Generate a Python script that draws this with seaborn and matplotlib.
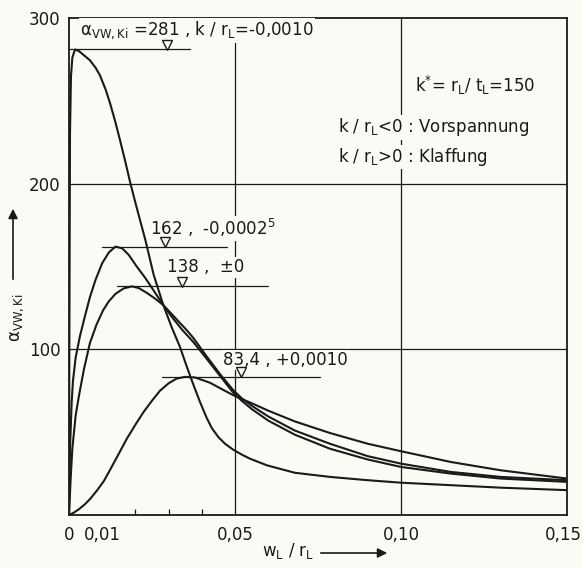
"""Kippbeiwert alpha_VW,Ki des Liners ueber w_L/r_L (k* = 150)."""

import matplotlib

matplotlib.use("Agg")

import matplotlib.pyplot as plt
import matplotlib.transforms as mtransforms
import pandas as pd
import seaborn as sns

PAPER = "#fbfaf4"
INK = "#1a1a1a"

# k/r_L = -0,0010 (Vorspannung, Spitze 281)
w_a = [0, 0.0001, 0.0003, 0.0006, 0.001, 0.0018, 0.003, 0.0045, 0.0063, 0.008, 0.0093,
       0.011, 0.0123, 0.014, 0.0154, 0.017, 0.0184, 0.020, 0.0214, 0.023, 0.0255, 0.0284,
       0.031, 0.0334, 0.0354, 0.0374, 0.0395, 0.0415, 0.043, 0.045, 0.047, 0.0494, 0.052,
       0.0545, 0.0596, 0.068, 0.0786, 0.090, 0.100, 0.115, 0.130, 0.150]
a_a = [0, 100, 230, 265, 276, 281, 280, 277.5, 274.5, 270, 265.5,
       257, 249, 237, 226, 213, 201, 188.5, 178, 166, 145, 126.7,
       113, 101.6, 90, 79, 68, 58.5, 52.5, 47, 43, 39.5, 36.5,
       34, 30, 25.5, 23, 21, 19.5, 18, 16.5, 15]

# k/r_L = -0,00025 (Spitze 162)
w_b = [0, 0.0003, 0.0008, 0.0012, 0.002, 0.0033, 0.0048, 0.0063, 0.008, 0.010, 0.012,
       0.014, 0.016, 0.018, 0.0204, 0.023, 0.0254, 0.0284, 0.031, 0.034, 0.0374, 0.041,
       0.0445, 0.0494, 0.052, 0.055, 0.060, 0.068, 0.0786, 0.090, 0.100, 0.115, 0.130, 0.150]
a_b = [0, 40, 68, 81, 95, 108, 120, 131.5, 142, 152, 158.5,
       162, 161, 157, 150, 143, 135.8, 126.7, 119.5, 112, 104.5, 95.5,
       86.5, 74, 69, 64, 57, 48.5, 40, 33.5, 29, 25, 22, 20]

# k/r_L = +-0 (Spitze 138)
w_c = [0, 0.0005, 0.001, 0.002, 0.003, 0.0045, 0.0063, 0.0083, 0.0103, 0.012, 0.014,
       0.0165, 0.0189, 0.021, 0.0235, 0.026, 0.0284, 0.032, 0.0355, 0.0374, 0.041, 0.0455,
       0.0494, 0.052, 0.055, 0.060, 0.068, 0.0786, 0.090, 0.100, 0.115, 0.130, 0.150]
a_c = [0, 22, 40, 60, 72, 88, 103.8, 115, 123.7, 129, 133.5,
       136.8, 138, 137, 134, 130.5, 126.7, 119, 111.5, 107, 97, 85,
       75.5, 70.5, 66, 59.5, 51, 43, 35.5, 31, 26, 23, 21]

# k/r_L = +0,0010 (Klaffung, Spitze 83,4)
w_d = [0, 0.0015, 0.003, 0.0048, 0.0065, 0.0085, 0.0105, 0.0123, 0.015, 0.0174, 0.020,
       0.0224, 0.0250, 0.0274, 0.030, 0.0324, 0.035, 0.038, 0.0425, 0.046, 0.0494, 0.052,
       0.055, 0.060, 0.068, 0.0786, 0.090, 0.100, 0.115, 0.130, 0.150]
a_d = [0, 1.5, 3.5, 6.5, 10, 15, 20.5, 27, 37, 46, 54.5,
       62, 69, 75, 79.5, 82.3, 83.4, 83, 79.8, 76, 72.4, 70,
       67.5, 63, 56.5, 49.5, 43, 38.5, 32, 27, 22]

# Maxima mit Bezugslinie und Marke
peak_values = [281, 162, 138, 83.4]
peak_line_from = [0.0, 0.010, 0.0145, 0.028]
peak_line_to = [0.0364, 0.0476, 0.060, 0.0756]
peak_marker_w = [0.0295, 0.029, 0.034, 0.0518]
peak_labels = [
    r"α$_\mathrm{VW,Ki}$ =281 , k / r$_\mathrm{L}$=-0,0010",
    r"162 ,  -0,0002$^\mathrm{5}$",
    r"138 ,  ±0",
    r"83,4 , +0,0010",
]
peak_label_pos = [(0.0033, 292.5), (0.0244, 173), (0.0295, 149.5), (0.0464, 93.5)]

x_ticks = [0, 0.01, 0.05, 0.10, 0.15]
x_tick_labels = ["0", "0,01", "0,05", "0,10", "0,15"]
x_minor = [0.01, 0.02, 0.03, 0.04]
y_ticks = [100, 200, 300]
y_tick_labels = ["100", "200", "300"]

curves = pd.concat(
    [
        pd.DataFrame({"w": w_a, "alpha": a_a, "k": "-0,0010"}),
        pd.DataFrame({"w": w_b, "alpha": a_b, "k": "-0,00025"}),
        pd.DataFrame({"w": w_c, "alpha": a_c, "k": "0"}),
        pd.DataFrame({"w": w_d, "alpha": a_d, "k": "+0,0010"}),
    ],
    ignore_index=True,
)

sns.set_theme(style="white")
plt.rcParams["font.family"] = ["DejaVu Sans"]
plt.rcParams["mathtext.fontset"] = "custom"
plt.rcParams["mathtext.rm"] = "DejaVu Sans"
plt.rcParams["mathtext.it"] = "DejaVu Sans"
plt.rcParams["mathtext.bf"] = "DejaVu Sans"
FS = 12
plt.rcParams["font.size"] = FS

fig = plt.figure(figsize=(5.82, 5.68), dpi=100, facecolor=PAPER)
ax = fig.add_axes([69 / 582, 1 - 515 / 568, 498 / 582, 497 / 568])
ax.set_facecolor(PAPER)

for xv in (0.05, 0.10):
    ax.axvline(xv, color=INK, lw=0.9, zorder=1)
for yv in (100, 200):
    ax.axhline(yv, color=INK, lw=0.9, zorder=1)

sns.lineplot(
    data=curves, x="w", y="alpha", hue="k", palette=[INK] * 4,
    estimator=None, sort=False, legend=False, lw=1.5, ax=ax, zorder=4,
)

box = dict(facecolor=PAPER, edgecolor="none", pad=1.0)
marker_shift = mtransforms.offset_copy(ax.transData, fig=fig, y=3.2, units="points")
for val, x0, x1, xm, txt, (tx, ty) in zip(
    peak_values, peak_line_from, peak_line_to, peak_marker_w, peak_labels, peak_label_pos
):
    ax.plot([x0, x1], [val, val], color=INK, lw=0.9, zorder=2)
    ax.plot([xm], [val], marker="v", ms=6.5, mfc=PAPER, mec=INK, mew=1.0,
            transform=marker_shift, zorder=5)
    ax.text(tx, ty, txt, ha="left", va="center", color=INK, bbox=box, zorder=3)

ax.text(0.1042, 259, r"k$^{*}$= r$_\mathrm{L}$/ t$_\mathrm{L}$=150", ha="left", va="center",
        color=INK, bbox=box, zorder=3)
ax.text(0.081, 234, r"k / r$_\mathrm{L}$<0 : Vorspannung", ha="left", va="center",
        color=INK, bbox=box, zorder=3)
ax.text(0.081, 216, r"k / r$_\mathrm{L}$>0 : Klaffung", ha="left", va="center",
        color=INK, bbox=box, zorder=3)

ax.set_xlim(0, 0.15)
ax.set_ylim(0, 300)
ax.set_xticks(x_ticks)
ax.set_xticklabels(x_tick_labels)
ax.set_xticks(x_minor, minor=True)
ax.set_yticks(y_ticks)
ax.set_yticklabels(y_tick_labels)
ax.tick_params(axis="x", which="major", bottom=True, length=0, pad=8, colors=INK, labelsize=FS)
ax.tick_params(axis="x", which="minor", bottom=True, direction="in", length=4, width=0.9,
               color=INK)
ax.tick_params(axis="y", which="major", left=True, length=0, pad=6, colors=INK, labelsize=FS)
ax.set_xlabel("")
ax.set_ylabel("")
for spine in ax.spines.values():
    spine.set_color(INK)
    spine.set_linewidth(1.3)

# "0,15" sits at the right page edge; nudge it so it stays inside the picture
last = ax.xaxis.get_major_ticks()[-1].label1
last.set_transform(last.get_transform()
                   + mtransforms.ScaledTranslation(-4 / 100, 0, fig.dpi_scale_trans))

fig.text(17 / 582, 1 - 318 / 568, r"α$_\mathrm{VW,Ki}$", rotation=90, ha="center",
         va="center", color=INK, fontsize=FS)
ax.annotate("", xy=(13 / 582, 1 - 206 / 568), xytext=(13 / 582, 1 - 282 / 568),
            xycoords="figure fraction", textcoords="figure fraction", annotation_clip=False,
            arrowprops=dict(arrowstyle="-|>", color=INK, lw=1.2, mutation_scale=14))
fig.text(288 / 582, 1 - 551 / 568, r"w$_\mathrm{L}$ / r$_\mathrm{L}$", ha="center",
         va="center", color=INK, fontsize=FS)
ax.annotate("", xy=(390 / 582, 1 - 553 / 568), xytext=(318 / 582, 1 - 553 / 568),
            xycoords="figure fraction", textcoords="figure fraction", annotation_clip=False,
            arrowprops=dict(arrowstyle="-|>", color=INK, lw=1.2, mutation_scale=14))

fig.savefig("out.png", dpi=100, facecolor=PAPER)
